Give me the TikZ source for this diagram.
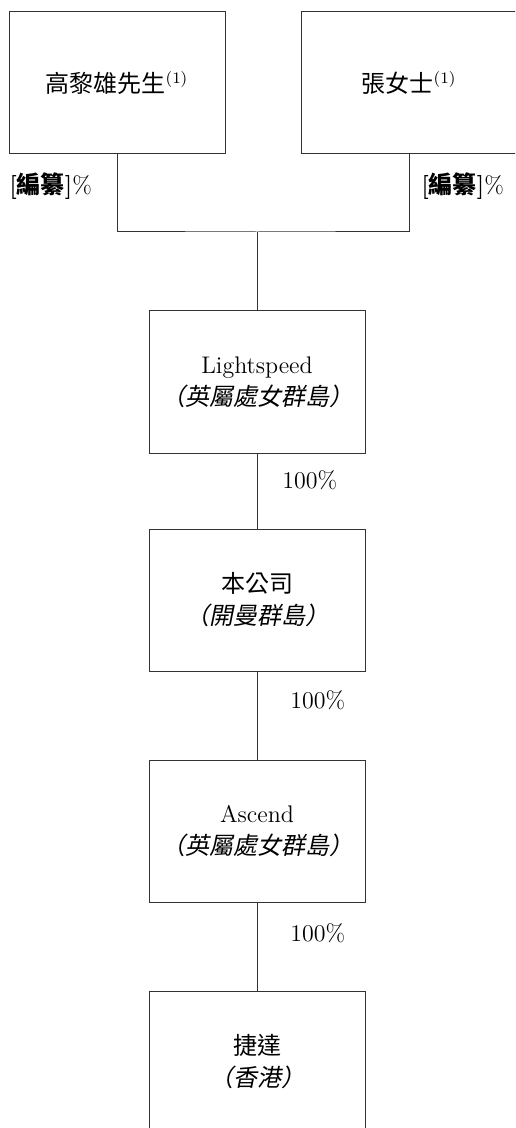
\documentclass[tikz,border=0pt]{standalone}
\usepackage{fontspec}
\newfontfamily\cjk{Noto Sans CJK TC}
\newfontfamily\cjkit[FakeSlant=0.2]{Noto Sans CJK TC}
\usetikzlibrary{calc,positioning}

\tikzset{
    entity/.style={draw=black!80, line width=0.5pt, minimum width=108pt,
        minimum height=71pt, inner sep=0pt, align=center,
        font=\fontsize{12}{16}\selectfont},
    link/.style={draw=black!80, line width=0.5pt},
    share/.style={anchor=west, inner sep=0pt, font=\fontsize{12}{14}\selectfont}
}

\begin{document}
\begin{tikzpicture}[x=0.5pt,y=-0.5pt]

\useasboundingbox (0,0) rectangle (515,1128);
\clip (0,0) rectangle (515,1128);

% === Shareholders ===
\node[entity] (koh) at (117,83) {{\cjk 高黎雄先生}\textsuperscript{(1)}};
\node[entity] (cheung) at (409,83) {{\cjk 張女士}\textsuperscript{(1)}};

\node[share] (kohpct) at (9,186) {\textbf{[{\cjk 編纂}]}\%};
\node[share] (cheungpct) at (421,186) {\textbf{[{\cjk 編纂}]}\%};

% Joint holding line
\coordinate (join) at (257,232);
\draw[link] (koh.south) |- (join) -| (cheung.south);

% === Group companies ===
\node[entity] (light) at (257,382) {Lightspeed\\{\cjkit （英屬處女群島）}};
\node[entity] (company) at (257,600) {{\cjk 本公司}\\{\cjkit （開曼群島）}};
\node[entity] (ascend) at (257,831) {Ascend\\{\cjkit （英屬處女群島）}};
\node[entity] (jieda) at (257,1062) {{\cjk 捷達}\\{\cjkit （香港）}};

\draw[link] (join) -- (light.north);

% 100% holdings
\foreach \up/\down/\px/\py in {light/company/282/480, company/ascend/290/700,
    ascend/jieda/290/933} {
    \draw[link] (\up.south) -- (\down.north);
    \node[share] (pct\down) at (\px,\py) {100\%};
}

\end{tikzpicture}
\end{document}
